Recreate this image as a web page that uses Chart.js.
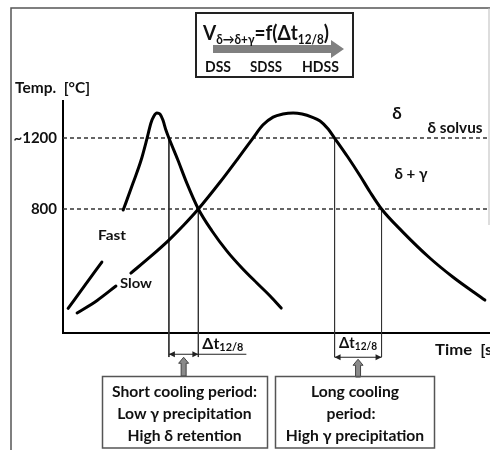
<!DOCTYPE html>
<html><head><meta charset="utf-8">
<script src="https://cdn.jsdelivr.net/npm/chart.js@4.4.0/dist/chart.umd.min.js"></script>
<style>html,body{margin:0;padding:0;background:#fff;overflow:hidden}#wrap{width:490px;height:450px;position:relative}canvas{display:block}</style>
</head><body><div id="wrap"><canvas id="c" width="490" height="450" style="width:490px;height:450px"></canvas></div>
<script>
// ---- data (time in arbitrary units, temperature in °C) ----
const fastHeatLow = [{x:1.2,y:240},{x:5.2,y:372},{x:9.1,y:501}];
const fastCycle = [
  {x:14.1,y:794},{x:16.4,y:946},{x:18.3,y:1076},{x:19.7,y:1200},{x:20.6,y:1285},
  {x:21.3,y:1324},{x:22.0,y:1341},{x:22.7,y:1335},{x:23.4,y:1301},{x:24.1,y:1245},
  {x:24.8,y:1200},{x:26.9,y:1076},{x:29.0,y:946},{x:31.7,y:800},{x:34.9,y:676},
  {x:38.4,y:563},{x:41.9,y:468},{x:45.4,y:383},{x:48.5,y:310},{x:51.1,y:242}
];
const slowHeatLow = [{x:3.3,y:214},{x:8.0,y:285},{x:12.4,y:366}];
const slowCycle = [
  {x:15.9,y:439},{x:20.4,y:530},{x:24.8,y:625},{x:28.3,y:710},{x:31.7,y:800},
  {x:36.8,y:952},{x:40.7,y:1076},{x:44.5,y:1200},{x:46.8,y:1273},{x:49.2,y:1318},
  {x:51.5,y:1335},{x:53.9,y:1341},{x:56.0,y:1335},{x:58.3,y:1318},{x:60.2,y:1296},
  {x:62.1,y:1251},{x:63.6,y:1200},{x:66.7,y:1093},{x:69.6,y:986},{x:71.9,y:896},
  {x:74.6,y:800},{x:79.6,y:670},{x:85.9,y:524},{x:91.3,y:417},{x:98.8,y:287}
];
const solvusTemp = 1200;
const lowTemp = 800;
const yTicks = [800, 1200];
const yTickLabels = ['800', '~1200'];
const fastTimes = [24.8, 31.7];   // t(1200), t(800) on fast cycle
const slowTimes = [63.6, 74.6];   // t(1200), t(800) on slow cycle
const xRange = [0, 100];
const yRange = [100, 1410];
const belowAxisTemp = -34;        // vertical guide lines reach below the time axis

const FONT = 'Lato';
const INK = '#111';

function vline(t, from){ return [{x:t,y:from},{x:t,y:belowAxisTemp}]; }
function hline(v){ return [{x:xRange[0],y:v},{x:xRange[1],y:v}]; }

function curve(data){
  return {data, borderColor:'#000', borderWidth:3, pointRadius:0, cubicInterpolationMode:'monotone', fill:false, borderCapStyle:'round'};
}
function guide(data){
  return {data, borderColor:'#333', borderWidth:1, pointRadius:0, fill:false, clip:false, tension:0};
}
function dashed(data){
  return {data, borderColor:'#333', borderWidth:1.3, borderDash:[4,3], pointRadius:0, fill:false, tension:0};
}

function measureRuns(ctx, runs){
  let w = 0;
  runs.forEach(r => { ctx.font = `bold ${r.size}px ${FONT}`; r.w = ctx.measureText(r.t).width; w += r.w; });
  return w;
}
function fitText(ctx, runs, x, baseline, targetW, align, fixedScale){
  const w = measureRuns(ctx, runs);
  const sx = fixedScale ? fixedScale : (targetW ? targetW / w : 1);
  ctx.save();
  let x0 = x;
  if (align === 'center') x0 = x - w*sx/2;
  ctx.translate(x0, baseline); ctx.scale(sx, 1);
  ctx.textAlign = 'left'; ctx.textBaseline = 'alphabetic';
  let cx = 0;
  runs.forEach(r => { ctx.font = `bold ${r.size}px ${FONT}`; ctx.fillText(r.t, cx, r.dy || 0); cx += r.w; });
  ctx.restore();
}
function txt(ctx, s, x, baseline, size, targetW, align, fixedScale){ fitText(ctx, [{t:s,size}], x, baseline, targetW, align, fixedScale); }

function arrowHead(ctx, x, y, dir){
  ctx.beginPath(); ctx.moveTo(x, y); ctx.lineTo(x - dir*6, y - 3); ctx.lineTo(x - dir*6, y + 3); ctx.closePath(); ctx.fill();
}
function upArrow(ctx, cx, top, bottom){
  ctx.save();
  ctx.fillStyle = '#8a8a8a'; ctx.strokeStyle = '#444'; ctx.lineWidth = 1;
  ctx.beginPath();
  ctx.moveTo(cx, top); ctx.lineTo(cx+5, top+6); ctx.lineTo(cx+2.5, top+6); ctx.lineTo(cx+2.5, bottom);
  ctx.lineTo(cx-2.5, bottom); ctx.lineTo(cx-2.5, top+6); ctx.lineTo(cx-5, top+6); ctx.closePath();
  ctx.fill(); ctx.stroke(); ctx.restore();
}

const annotations = {
  id:'annotations',
  afterDraw(chart){
    const ctx = chart.ctx, xs = chart.scales.x, ys = chart.scales.y, ca = chart.chartArea;
    const X = v => xs.getPixelForValue(v), Y = v => ys.getPixelForValue(v);
    ctx.save();
    ctx.fillStyle = INK; ctx.strokeStyle = INK;
    // outer frame
    ctx.strokeStyle = '#555'; ctx.lineWidth = 1.5;
    ctx.beginPath(); ctx.moveTo(11, 450); ctx.lineTo(11, 8); ctx.lineTo(490, 8); ctx.stroke();
    ctx.strokeStyle = '#bbb'; ctx.lineWidth = 1;
    ctx.beginPath(); ctx.moveTo(489, 8); ctx.lineTo(489, 225); ctx.stroke();
    // title box
    ctx.strokeStyle = '#222'; ctx.lineWidth = 2;
    ctx.strokeRect(196, 13, 157, 64);
    // grey arrow
    ctx.fillStyle = '#808080';
    ctx.beginPath();
    ctx.moveTo(213, 45); ctx.lineTo(331, 45); ctx.lineTo(331, 40); ctx.lineTo(344, 49);
    ctx.lineTo(331, 58); ctx.lineTo(331, 53); ctx.lineTo(213, 53); ctx.closePath(); ctx.fill();
    ctx.fillStyle = INK;
    fitText(ctx, [{t:'V',size:21},{t:'δ→δ+γ',size:13,dy:4},{t:'=f(Δt',size:21},{t:'12/8',size:13,dy:4},{t:')',size:21}], 203, 40, 126);
    txt(ctx, 'DSS', 205, 72, 14.5, 26);
    txt(ctx, 'SDSS', 250, 72, 14.5, 32);
    txt(ctx, 'HDSS', 302, 72, 14.5, 37);
    // axis title
    txt(ctx, 'Temp.  [°C]', 15, 93, 15, 75);
    // region labels
    txt(ctx, 'Fast', X(11.5), Y(654)+5, 14, 28, 'center');
    txt(ctx, 'Slow', X(17.1), Y(383)+5, 14, 32, 'center');
    txt(ctx, 'δ', X(78.2), Y(1341)+6, 17, 0, 'center');
    txt(ctx, 'δ solvus', X(91.8), Y(1256)+5, 14.5, 55, 'center');
    txt(ctx, 'δ + γ', X(81.5), Y(997)+5, 14.5, 33, 'center');
    txt(ctx, 'Time  [s]', 435, 355, 14.5, 62);
    // Δt markers
    ctx.strokeStyle = '#222'; ctx.fillStyle = '#222'; ctx.lineWidth = 1;
    const fa = X(fastTimes[0]), fb = X(fastTimes[1]), sa = X(slowTimes[0]), sb = X(slowTimes[1]);
    const ly = ca.bottom + 21, ry = ca.bottom + 24;
    ctx.beginPath(); ctx.moveTo(fa, ly); ctx.lineTo(fb + 48, ly); ctx.stroke();
    arrowHead(ctx, fa, ly, -1); arrowHead(ctx, fb, ly, 1);
    ctx.beginPath(); ctx.moveTo(sa, ry); ctx.lineTo(sb, ry); ctx.stroke();
    arrowHead(ctx, sa, ry, -1); arrowHead(ctx, sb, ry, 1);
    ctx.fillStyle = INK;
    fitText(ctx, [{t:'Δt',size:16},{t:'12/8',size:11,dy:2}], fb + 4, ca.bottom + 16, 41);
    fitText(ctx, [{t:'Δt',size:16},{t:'12/8',size:11,dy:2}], (sa+sb)/2, ca.bottom + 15, 38, 'center');
    upArrow(ctx, (fa+fb)/2, ly + 3, 376);
    upArrow(ctx, (sa+sb)/2, ry + 2, 377);
    // explanation boxes
    ctx.strokeStyle = '#555'; ctx.lineWidth = 1.5;
    ctx.strokeRect(102.5, 376.5, 165, 71.5);
    ctx.strokeRect(275.5, 376.5, 159, 71.5);
    ctx.fillStyle = INK;
    const bs = 15.5;
    const boxScale = 145 / measureRuns(ctx, [{t:'Short cooling period:', size:bs}]);
    txt(ctx, 'Short cooling period:', 184.5, 397, bs, 0, 'center', boxScale);
    txt(ctx, 'Low γ precipitation', 184.5, 419, bs, 0, 'center', boxScale);
    txt(ctx, 'High δ retention', 184.5, 441, bs, 0, 'center', boxScale);
    txt(ctx, 'Long cooling', 355, 397, bs, 0, 'center', boxScale);
    txt(ctx, 'period:', 351, 419, bs, 0, 'center', boxScale);
    txt(ctx, 'High γ precipitation', 355, 441, bs, 0, 'center', boxScale);
    ctx.restore();
  }
};

new Chart(document.getElementById('c'), {
  type:'line',
  data:{datasets:[
    curve(fastCycle), curve(fastHeatLow), curve(slowCycle), curve(slowHeatLow),
    dashed(hline(solvusTemp)), dashed(hline(lowTemp)),
    guide(vline(fastTimes[0], solvusTemp)), guide(vline(fastTimes[1], lowTemp)),
    guide(vline(slowTimes[0], solvusTemp)), guide(vline(slowTimes[1], lowTemp))
  ]},
  options:{
    responsive:false, animation:false, devicePixelRatio:1,
    layout:{padding:{top:100.75, right:0, bottom:0, left:0}},
    plugins:{legend:{display:false}, tooltip:{enabled:false}},
    scales:{
      x:{type:'linear', min:xRange[0], max:xRange[1], grid:{display:false, drawTicks:false},
         ticks:{display:false}, border:{display:true, color:'#000', width:2},
         afterFit(s){ s.height = 116.75; }},
      y:{type:'linear', min:yRange[0], max:yRange[1], grid:{display:false, drawTicks:false},
         border:{display:true, color:'#000', width:2},
         afterBuildTicks(s){ s.ticks = yTicks.map(v => ({value:v})); },
         ticks:{color:INK, padding:6, font:{family:FONT, weight:'bold', size:15},
                callback:(v) => yTickLabels[yTicks.indexOf(v)]},
         afterFit(s){ s.width = 63; }}
    }
  },
  plugins:[annotations]
});
</script></body></html>
